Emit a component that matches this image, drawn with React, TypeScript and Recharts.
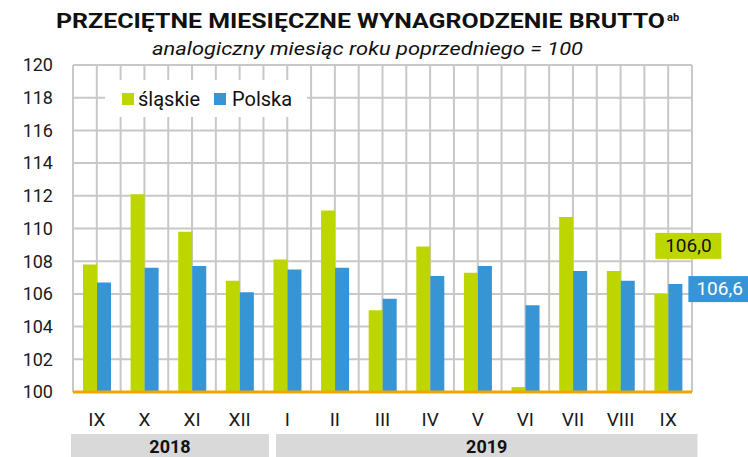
import { BarChart, Bar, XAxis, YAxis, CartesianGrid, LabelList } from "recharts";

const months = ["IX", "X", "XI", "XII", "I", "II", "III", "IV", "V", "VI", "VII", "VIII", "IX"];
const slaskie = [107.8, 112.1, 109.8, 106.8, 108.1, 111.1, 105.0, 108.9, 107.3, 100.3, 110.7, 107.4, 106.0];
const polska = [106.7, 107.6, 107.7, 106.1, 107.5, 107.6, 105.7, 107.1, 107.7, 105.3, 107.4, 106.8, 106.6];
const yTicks = [100, 102, 104, 106, 108, 110, 112, 114, 116, 118, 120];
const years = [
  { label: "2018", start: 0, count: 4 },
  { label: "2019", start: 4, count: 9 },
];

const data = months.map((month, i) => ({ month, slaskie: slaskie[i], polska: polska[i] }));

const W = 748;
const H = 457;
const margin = { top: 65, right: 56, left: 0, bottom: 0 };
const Y_W = 73;
const PLOT_W = W - Y_W - margin.right;
const BAND = PLOT_W / months.length;

const GREEN = "#bed600";
const BLUE = "#3795d5";
const FONT = "Roboto, 'Noto Sans', sans-serif";

const fmt = (v: number) => v.toFixed(1).replace(".", ",");

const MonthTick = (props: any) => {
  const { x, y, payload, index } = props;
  const yr = years.find((g) => g.start === index);
  let band = null;
  if (yr) {
    const left = x - BAND / 2 + (yr.start === 0 ? -2 : 12.5);
    const right = x - BAND / 2 + yr.count * BAND + 5.5;
    band = (
      <g>
        <rect x={left} y={y + 21} width={right - left} height={30} fill="#d9d9d9" />
        <text x={(left + right) / 2} y={y + 40} textAnchor="middle" fontSize={18} fontWeight={700} fill="#111" fontFamily={FONT}>
          {yr.label}
        </text>
      </g>
    );
  }
  return (
    <g>
      {band}
      <text x={x} y={y} dy="0.71em" textAnchor="middle" fontSize={19} fill="#1a1a1a" fontFamily={FONT}>
        {payload.value}
      </text>
    </g>
  );
};

const lastIdx = months.length - 1;

const GreenLabel = (props: any) => {
  const { x, y, value, index } = props;
  if (index !== lastIdx) return null;
  const bx = x + 1;
  const by = y - 61;
  return (
    <g>
      <rect x={bx} y={by} width={66} height={26} fill={GREEN} />
      <text x={bx + 33} y={by + 19} textAnchor="middle" fontSize={19} fill="#111" fontFamily={FONT}>
        {fmt(value)}
      </text>
    </g>
  );
};

const BlueLabel = (props: any) => {
  const { x, y, width, value, index } = props;
  if (index !== lastIdx) return null;
  const bx = x + width + 6;
  const by = y - 8;
  return (
    <g>
      <rect x={bx} y={by} width={66} height={26} fill={BLUE} />
      <text x={bx + 8} y={by + 19} fontSize={19} fill="#fff" fontFamily={FONT}>
        {fmt(value)}
      </text>
    </g>
  );
};

const LegendBox = () => (
  <div
    style={{
      position: "absolute",
      top: 80,
      left: 105,
      width: 202,
      height: 37,
      background: "#fff",
      display: "flex",
      alignItems: "center",
      paddingLeft: 17,
      boxSizing: "border-box",
      fontFamily: FONT,
      fontSize: 20,
      color: "#111",
    }}
  >
    <span style={{ width: 12, height: 12, background: GREEN, display: "inline-block", marginRight: 4 }} />
    <span>śląskie</span>
    <span style={{ width: 12, height: 12, background: BLUE, display: "inline-block", marginLeft: 14, marginRight: 6 }} />
    <span>Polska</span>
  </div>
);

export default function App() {
  return (
    <div style={{ position: "absolute", top: 0, left: 0, width: W, height: H, background: "#fff", overflow: "hidden" }}>
      <BarChart width={W} height={H} data={data} margin={margin} barGap={0} barSize={14}>
        <CartesianGrid
          stroke="#c8c8c8"
          strokeWidth={2}
          verticalCoordinatesGenerator={({ offset }: any) =>
            Array.from({ length: months.length * 2 + 1 }, (_, i) => offset.left + (i * offset.width) / (months.length * 2))
          }
        />
        <YAxis
          domain={[100, 120]}
          ticks={yTicks}
          width={Y_W}
          axisLine={false}
          tickLine={false}
          tickSize={0}
          tickMargin={20}
          tick={{ fontSize: 18, fill: "#1a1a1a", fontFamily: FONT }}
        />
        <XAxis
          dataKey="month"
          height={65}
          interval={0}
          tickLine={false}
          tickSize={0}
          tickMargin={21}
          axisLine={{ stroke: "#f0a500", strokeWidth: 3 }}
          tick={<MonthTick />}
        />
        <Bar dataKey="slaskie" name="śląskie" fill={GREEN} isAnimationActive={false}>
          <LabelList dataKey="slaskie" content={<GreenLabel />} />
        </Bar>
        <Bar dataKey="polska" name="Polska" fill={BLUE} isAnimationActive={false}>
          <LabelList dataKey="polska" content={<BlueLabel />} />
        </Bar>
      </BarChart>
      <LegendBox />
      <svg width={W} height={65} style={{ position: "absolute", top: 0, left: 0, pointerEvents: "none" }}>
        <text x={56} y={28} fontSize={21} fontWeight={700} fill="#111" fontFamily={FONT} textLength={609} lengthAdjust="spacingAndGlyphs">
          PRZECIĘTNE MIESIĘCZNE WYNAGRODZENIE BRUTTO
        </text>
        <text x={667} y={21} fontSize={11} fontWeight={700} fill="#111" fontFamily={FONT}>
          ab
        </text>
        <text x={152} y={55} fontSize={19} fontStyle="italic" fill="#111" fontFamily={FONT} textLength={431} lengthAdjust="spacingAndGlyphs">
          analogiczny miesiąc roku poprzedniego = 100
        </text>
      </svg>
    </div>
  );
}
